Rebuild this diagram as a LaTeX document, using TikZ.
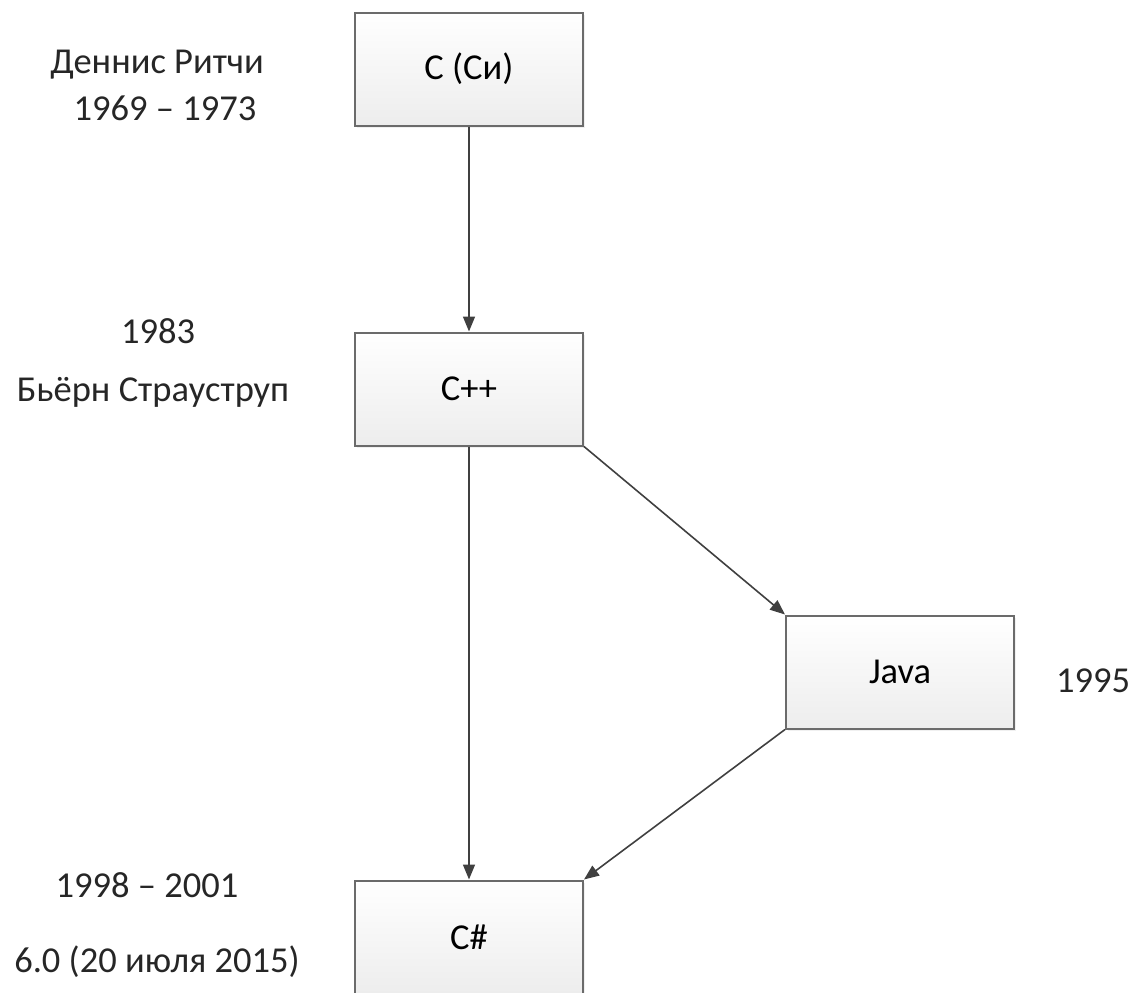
\documentclass[tikz,border=0pt]{standalone}
\usepackage{fontspec}
\setmainfont{Carlito}
\usetikzlibrary{arrows.meta,shadows}
\definecolor{boxline}{HTML}{6B6B6B}
\definecolor{arrowline}{HTML}{404040}
\definecolor{boxbottom}{HTML}{EDEDED}
\tikzset{
  langbox/.style={draw=boxline, line width=2pt, top color=white, bottom color=boxbottom,
    minimum width=228pt, minimum height=113pt, inner sep=0pt,
    drop shadow={shadow xshift=2pt, shadow yshift=-2pt, opacity=0.12},
    font=\fontsize{36.5}{44}\selectfont},
  note/.style={anchor=base, inner sep=0pt, font=\fontsize{36.5}{44}\selectfont, text=black!85},
  link/.style={draw=arrowline, line width=1.6pt, -{Triangle[length=15pt,width=12pt]}}
}
\begin{document}
\begin{tikzpicture}[x=1pt,y=-1pt]
  \useasboundingbox (0,0) rectangle (1136,993);

  % language boxes
  \node[langbox] (c)    at (469,69)  {C (Си)};
  \node[langbox] (cpp)  at (469,389) {C++};
  \node[langbox] (java) at (900,672) {Java};
  \node[langbox] (cs)   at (469,937) {C\#};

  % side notes
  \node[note] (ritchie)  at (157,73)  {Деннис Ритчи};
  \node[note] (cyears)   at (165,120) {1969 – 1973};
  \node[note] (cppyear)  at (158,343) {1983};
  \node[note] (stroustr) at (153,401) {Бьёрн Страуструп};
  \node[note] (javayear) at (1093,692) {1995};
  \node[note] (csyears)  at (147,897) {1998 – 2001};
  \node[note] (csver)    at (157,972) {6.0 (20 июля 2015)};

  % lineage
  \draw[link] (c.south) -- (cpp.north);
  \draw[link] (cpp.south) -- (cs.north);
  \draw[link] (cpp.south east) -- (java.north west);
  \draw[link] (java.south west) -- (cs.north east);
\end{tikzpicture}
\end{document}
